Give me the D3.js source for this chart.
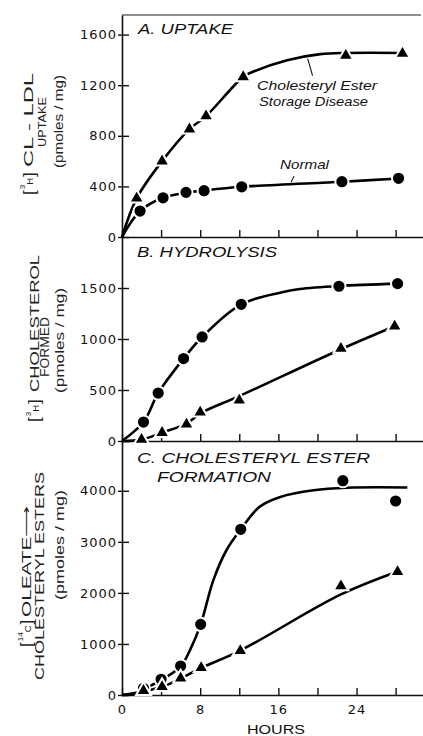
<!DOCTYPE html>
<html lang="en">
<head>
<meta charset="UTF-8">
<title>LDL uptake / hydrolysis / esterification</title>
<script src="https://cdn.jsdelivr.net/npm/d3@7"></script>
<style>
    body{ margin:0; background:#fff; }
    svg{ display:block; font-family:"Liberation Sans", Arial, sans-serif; }
</style>
</head>
<body>
<script>
// ---- values ----
// A. uptake
let uptakeHoursCESD   = [1.5, 4.1, 6.9, 8.6, 12.4, 22.9, 28.7];
let uptakeCESD        = [306, 600, 853, 956, 1266, 1435, 1451];
let uptakeHoursNormal = [1.85, 4.2, 6.55, 8.4, 12.25, 22.5, 28.3];
let uptakeNormal      = [205, 310, 353, 366, 397, 437, 464];
// fitted curves drawn in the figure
let uptakeFitHoursCESD   = [0, 1.5, 4.1, 6.9, 8.6, 12.4, 13.4, 16.9, 20.3, 23, 29];
let uptakeFitCESD        = [0, 306, 600, 853, 956, 1266, 1306, 1398, 1446, 1455, 1455];
let uptakeFitHoursNormal = [0, 1.85, 4.2, 6.55, 8.4, 12.25, 22.5, 28.3];
let uptakeFitNormal      = [0, 205, 310, 350, 368, 397, 437, 462];

// B. hydrolysis
let hydroHoursNormal = [2.2, 3.7, 6.3, 8.2, 12.2, 22.2, 28.2];
let hydroNormal      = [186, 470, 808, 1020, 1340, 1517, 1543];
let hydroHoursCESD   = [2, 4.1, 6.6, 8, 12, 22.4, 27.9];
let hydroCESD        = [15, 82, 164, 281, 399, 906, 1125];
let hydroFitHoursNormal = [0, 2.2, 3.7, 6.3, 8.2, 12.2, 16.5, 18.2, 22.2, 28.2];
let hydroFitNormal      = [0, 186, 470, 808, 1020, 1340, 1460, 1490, 1520, 1543];
let hydroFitHoursCESD   = [0, 2, 4.1, 6.6, 8, 12, 22.4, 27.9];
let hydroFitCESD        = [0, 15, 82, 170, 270, 440, 900, 1125];

// C. cholesteryl ester formation
let esterHoursNormal = [2.2, 4, 6, 8.05, 12.15, 22.6, 28];
let esterNormal      = [131, 307, 568, 1384, 3245, 4197, 3800];
let esterHoursCESD   = [2.2, 4.1, 6, 8.1, 12.1, 22.4, 28.2];
let esterCESD        = [85, 163, 327, 535, 868, 2134, 2414];
let esterFitHoursNormal = [0, 1.5, 2.2, 4, 6, 6.96, 8.05, 9.35, 10.7, 12.15, 14.1, 16.2, 19.6, 23, 29.2];
let esterFitNormal      = [0, 30, 110, 290, 560, 880, 1384, 2250, 2840, 3245, 3690, 3880, 4010, 4060, 4065];
let esterFitHoursCESD   = [0, 2.2, 4.1, 6, 8.1, 12.1, 22.4, 28.2];
let esterFitCESD        = [0, 70, 160, 320, 530, 870, 1970, 2420];

// ticks
let xTicks      = [0, 4, 8, 12, 16, 20, 24, 28];
let xTickLabels = [0, 8, 16, 24];
let yTicksA = [0, 400, 800, 1200, 1600];
let yTicksB = [0, 500, 1000, 1500];
let yTicksC = [0, 1000, 2000, 3000, 4000];

// ---- layout ----
let width = 423, height = 736;
let svg = d3.select("body").append("svg")
    .attr("width", width).attr("height", height);

let x = d3.scaleLinear().domain([0, 30.8]).range([122, 423]);

let panels = [
    { top: 15,  bottom: 237, max: 1755, yTicks: yTicksA,
      title: [{ t: "A. UPTAKE", x: 138, y: 34, len: 95 }],
      ylab: [
        { pre: ["[", "3", "H", "]"], t: "CL - LDL", bx: 33, y0: 167, len: 94, fs: 12.5, preY: 195 },
        { t: "UPTAKE", bx: 45.5, y0: 147, len: 50, fs: 11.5 },
        { t: "(pmoles / mg)", bx: 62.5, y0: 168, len: 93, fs: 12 }],
      series: [
        { hours: uptakeHoursCESD, vals: uptakeCESD, fitH: uptakeFitHoursCESD, fitV: uptakeFitCESD, mark: "tri" },
        { hours: uptakeHoursNormal, vals: uptakeNormal, fitH: uptakeFitHoursNormal, fitV: uptakeFitNormal, mark: "dot" }] },
    { top: 237, bottom: 441, max: 2000, yTicks: yTicksB,
      title: [{ t: "B. HYDROLYSIS", x: 137, y: 257, len: 140 }],
      ylab: [
        { pre: ["[", "3", "H", "]"], t: "CHOLESTEROL", bx: 38.5, y0: 392, len: 137, fs: 13, preY: 422 },
        { t: "FORMED", bx: 48.5, y0: 377, len: 60, fs: 12 },
        { t: "(pmoles / mg)", bx: 63.5, y0: 393, len: 105, fs: 12 }],
      series: [
        { hours: hydroHoursNormal, vals: hydroNormal, fitH: hydroFitHoursNormal, fitV: hydroFitNormal, mark: "dot" },
        { hours: hydroHoursCESD, vals: hydroCESD, fitH: hydroFitHoursCESD, fitV: hydroFitCESD, mark: "tri" }] },
    { top: 441, bottom: 695, max: 4975, yTicks: yTicksC,
      title: [{ t: "C. CHOLESTERYL ESTER", x: 137, y: 463, len: 233 },
              { t: "FORMATION", x: 157, y: 482, len: 114 }],
      ylab: [
        { pre: ["[", "14", "C", "]"], t: "OLEATE\u27F6", bx: 30.5, y0: 617, len: 112, fs: 12.5, preY: 647 },
        { t: "CHOLESTERYL ESTERS", bx: 44, y0: 680, len: 208, fs: 12.5 },
        { t: "(pmoles / mg)", bx: 63.5, y0: 600, len: 110, fs: 12 }],
      series: [
        { hours: esterHoursNormal, vals: esterNormal, fitH: esterFitHoursNormal, fitV: esterFitNormal, mark: "dot" },
        { hours: esterHoursCESD, vals: esterCESD, fitH: esterFitHoursCESD, fitV: esterFitCESD, mark: "tri" }] }
];

// top frame line
svg.append("line")
    .attr("x1", x(0)).attr("x2", 421)
    .attr("y1", panels[0].top).attr("y2", panels[0].top)
    .attr("stroke", "#222").attr("stroke-width", 1.2);

let triangle = d3.symbol().type(d3.symbolTriangle).size(95);

panels.forEach((p, pi) => {
    let y = d3.scaleLinear().domain([0, p.max]).range([p.bottom, p.top]);
    p.y = y;

    // y axis, ticks crossing the line
    let yAxis = d3.axisLeft(y).tickValues(p.yTicks).tickFormat(d3.format("d"))
        .tickSize(-7).tickSizeOuter(0).tickPadding(5);
    let yg = svg.append("g").attr("transform", `translate(${x(0)},0)`).call(yAxis);
    yg.selectAll(".tick line").attr("x1", -4).attr("x2", 7);

    // x axis, ticks pointing up
    let xAxis = d3.axisBottom(x).tickValues(xTicks)
        .tickSize(-7).tickSizeOuter(0).tickPadding(10)
        .tickFormat(d => (pi === 2 && xTickLabels.includes(d)) ? d : "");
    let xg = svg.append("g").attr("transform", `translate(0,${p.bottom})`).call(xAxis);

    [yg, xg].forEach(g => {
        g.select(".domain").attr("stroke", "#111").attr("stroke-width", 1.6);
        g.selectAll(".tick line").attr("stroke", "#111").attr("stroke-width", 1.4);
        g.selectAll(".tick text")
            .attr("font-family", "DejaVu Sans, sans-serif")
            .attr("font-size", 13).attr("letter-spacing", 1).attr("fill", "#111");
    });

    // panel titles
    p.title.forEach(t => {
        svg.append("text").attr("x", t.x).attr("y", t.y)
            .attr("font-size", 14).attr("font-style", "italic")
            .attr("textLength", t.len).attr("lengthAdjust", "spacingAndGlyphs")
            .attr("fill", "#111").text(t.t);
    });

    // rotated y titles
    p.ylab.forEach(l => {
        let g = svg.append("g").attr("transform", `translate(${l.bx},0) rotate(-90)`);
        g.append("text").attr("x", -l.y0).attr("y", 0)
            .attr("font-size", l.fs).attr("textLength", l.len)
            .attr("lengthAdjust", "spacingAndGlyphs")
            .attr("fill", "#222").text(l.t);
        if (l.pre) {
            let pt = g.append("text").attr("x", -l.preY).attr("y", 0).attr("fill", "#222");
            pt.append("tspan").attr("font-size", 17).attr("dy", 1.5).text(l.pre[0]);
            pt.append("tspan").attr("font-size", 8).attr("dy", -9.5).attr("dx", 1).text(l.pre[1]);
            pt.append("tspan").attr("font-size", 9.5).attr("dy", 8).text(l.pre[2]);
            pt.append("tspan").attr("font-size", 17).attr("dy", 1.5).attr("dx", 1).text(l.pre[3]);
        }
    });

    // curves + markers
    let line = d3.line().curve(d3.curveCatmullRom.alpha(0.5))
        .x(d => x(d.h)).y(d => y(d.v));
    p.series.forEach(s => {
        let fit = s.fitH.map((h, i) => ({ h: h, v: s.fitV[i] }));
        svg.append("path").datum(fit)
            .attr("fill", "none").attr("stroke", "#000")
            .attr("stroke-width", 2.6).attr("d", line);
    });
    p.series.forEach(s => {
        let pts = s.hours.map((h, i) => ({ h: h, v: s.vals[i] }));
        if (s.mark === "dot") {
            svg.append("g").selectAll("circle").data(pts).join("circle")
                .attr("cx", d => x(d.h)).attr("cy", d => y(d.v)).attr("r", 6.6)
                .attr("fill", "#000").attr("stroke", "#fff").attr("stroke-width", 2);
        } else {
            svg.append("g").selectAll("path").data(pts).join("path")
                .attr("transform", d => `translate(${x(d.h)},${y(d.v)})`)
                .attr("d", triangle)
                .attr("fill", "#000").attr("stroke", "#fff").attr("stroke-width", 2);
        }
    });
});

// annotations in panel A
let yA = panels[0].y;
let notes = [
    { t: "Cholesteryl Ester", x: 257, y: 90, len: 120 },
    { t: "Storage Disease", x: 259, y: 105.5, len: 109 },
    { t: "Normal", x: 280, y: 168.5, len: 49 }];
notes.forEach(n => {
    svg.append("text").attr("x", n.x).attr("y", n.y)
        .attr("font-size", 13.5).attr("font-style", "italic")
        .attr("textLength", n.len).attr("lengthAdjust", "spacingAndGlyphs")
        .attr("fill", "#111").text(n.t);
});
// leader lines (in data units)
let leaders = [[[19, 1410], [19.5, 1275]], [[17.3, 432], [17.6, 480]]];
leaders.forEach(l => {
    svg.append("line")
        .attr("x1", x(l[0][0])).attr("y1", yA(l[0][1]))
        .attr("x2", x(l[1][0])).attr("y2", yA(l[1][1]))
        .attr("stroke", "#111").attr("stroke-width", 1.1);
});

// x title
svg.append("text").attr("x", 247).attr("y", 734)
    .attr("font-size", 12).attr("textLength", 58)
    .attr("lengthAdjust", "spacingAndGlyphs").attr("fill", "#111")
    .text("HOURS");
</script>
</body>
</html>
